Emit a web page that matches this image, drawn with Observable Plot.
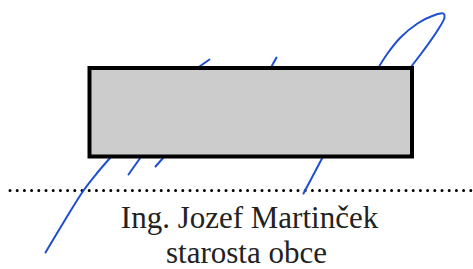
<!DOCTYPE html>
<html>
<head>
<meta charset="utf-8">
<script src="https://cdn.jsdelivr.net/npm/d3@7"></script>
<script src="https://cdn.jsdelivr.net/npm/@observablehq/plot@0.6"></script>
<style>
  html, body { margin: 0; padding: 0; background: #fff; }
  #chart svg { display: block; }
</style>
</head>
<body>
<div id="chart"></div>
<script>
// Signature strokes (page coordinates)
const strokeIds = ["a", "b", "c", "d", "e", "f", "g"];
const strokeX = [
  [45, 63, 83, 97, 110],
  [128, 140],
  [155, 163],
  [199, 209],
  [271, 276],
  [378, 387, 400, 417, 433, 443, 444, 437, 423, 410],
  [322, 303]
];
const strokeY = [
  [252, 222, 190, 172, 157],
  [174, 157],
  [166, 157],
  [66, 59],
  [66, 57],
  [67, 53, 37, 23, 15, 13, 17, 30, 50, 67],
  [157, 193]
];
// Redaction box
const boxX = [89.5, 412];
const boxY = [68, 156.5];
// Dotted signature line
const dottedY = 190;
const dottedX = [10, 473];
// Labels
const labels = ["Ing. Jozef Martinček", "starosta obce"];
const labelX = [249, 246];
const labelY = [218, 253];

const strokes = strokeIds.flatMap((id, i) =>
  strokeX[i].map((x, j) => ({id, x, y: strokeY[i][j]})));
const box = [{x1: boxX[0], x2: boxX[1], y1: boxY[0], y2: boxY[1]}];
const texts = labels.map((t, i) => ({t, x: labelX[i], y: labelY[i]}));

const chart = Plot.plot({
  width: 473,
  height: 269,
  margin: 0,
  x: {domain: [0, 473], axis: null},
  y: {domain: [269, 0], axis: null},
  style: {background: "#fff"},
  marks: [
    Plot.ruleY([dottedY], {x1: dottedX[0], x2: dottedX[1], stroke: "#000",
      strokeWidth: 3, strokeDasharray: "0 7.2", strokeLinecap: "round"}),
    Plot.line(strokes, {x: "x", y: "y", z: "id", curve: "catmull-rom",
      stroke: "#1d4fd2", strokeWidth: 2}),
    Plot.rect(box, {x1: "x1", x2: "x2", y1: "y1", y2: "y2",
      fill: "#cccccc", stroke: "#000", strokeWidth: 4}),
    Plot.text(texts, {x: "x", y: "y", text: "t", fontSize: 31,
      fontFamily: "Liberation Serif, Times New Roman, serif", fill: "#222"})
  ]
});
document.getElementById("chart").appendChild(chart);
</script>
</body>
</html>
